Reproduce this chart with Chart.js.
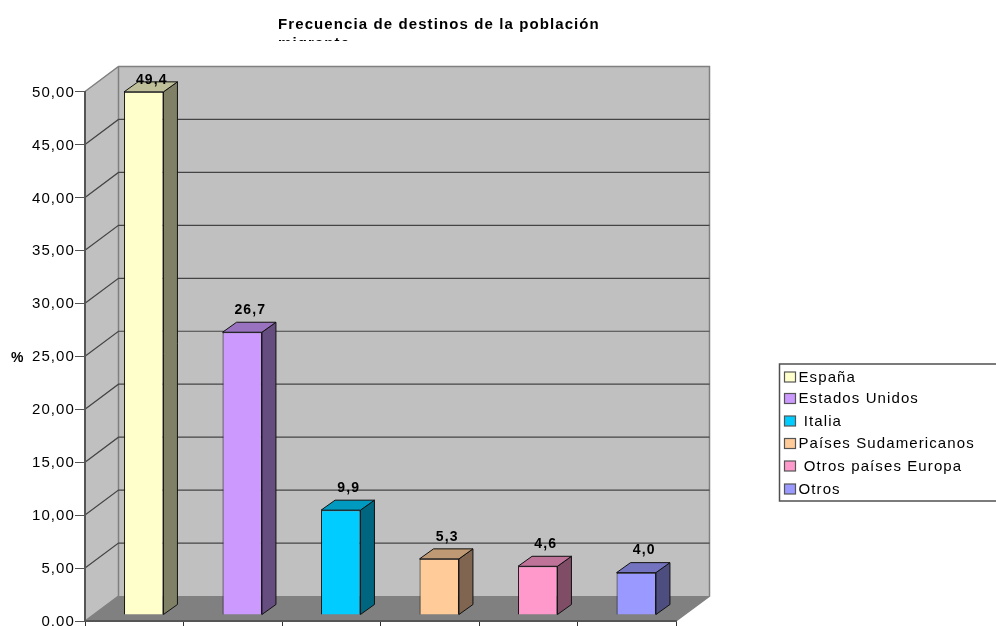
<!DOCTYPE html>
<html><head><meta charset="utf-8">
<style>html,body{margin:0;padding:0;background:#fff;overflow:hidden}canvas{display:block}</style>
<script src="https://cdn.jsdelivr.net/npm/chart.js@4"></script>
</head><body><canvas id="c" width="996" height="626"></canvas>
<script>
const categories = ['España','Estados Unidos',' Italia','Países Sudamericanos',' Otros países Europa','Otros'];
const values = [49.4,26.7,9.9,5.3,4.6,4.0];
const valueLabels = ['49,4','26,7','9,9','5,3','4,6','4,0'];
const frontColors = ['#FFFFCC','#CC99FF','#00CCFF','#FFCC99','#FF99CC','#9999FF'];
const topColors = ['#BFBF99','#9973BF','#0099BF','#BF9973','#BF7399','#7373BF'];
const sideColors = ['#808066','#664D80','#006680','#806650','#804D66','#4D4D80'];
const chartTitle = ['Frecuencia de destinos de la población','migrante'];
const axisTitle = '%';
const yMax = 50, yStep = 5;

const FONT = '"Liberation Sans", Arial, sans-serif';
const DEPTH = {x:33.5, y:-25};
const BAR_SHIFT = {x:9.5, y:-6};
const BAR_DEPTH = {x:14, y:-10};

const scene = {
  id:'scene',
  afterLayout(chart){
    const t = chart.titleBlock;
    t.left = 278; t.right = 800;
  },
  beforeDraw(chart){
    const {ctx, chartArea:a, scales:{y}} = chart;
    ctx.letterSpacing = '1.1px';
    const d = DEPTH;
    ctx.save();
    ctx.fillStyle = '#C0C0C0';
    ctx.fillRect(a.left+d.x, a.top+d.y, a.width, a.height);
    ctx.beginPath();
    ctx.moveTo(a.left,a.top); ctx.lineTo(a.left+d.x,a.top+d.y);
    ctx.lineTo(a.left+d.x,a.bottom+d.y); ctx.lineTo(a.left,a.bottom); ctx.closePath();
    ctx.fill();
    ctx.fillStyle = '#808080';
    ctx.beginPath();
    ctx.moveTo(a.left,a.bottom); ctx.lineTo(a.right,a.bottom);
    ctx.lineTo(a.right+d.x,a.bottom+d.y); ctx.lineTo(a.left+d.x,a.bottom+d.y); ctx.closePath();
    ctx.fill();
    // edges
    ctx.strokeStyle = '#808080'; ctx.lineWidth = 1.5;
    ctx.beginPath();
    ctx.moveTo(a.left,a.top); ctx.lineTo(a.left+d.x,a.top+d.y); ctx.lineTo(a.right+d.x,a.top+d.y);
    ctx.lineTo(a.right+d.x,a.bottom+d.y); ctx.lineTo(a.right,a.bottom);
    ctx.moveTo(a.left+d.x,a.top+d.y); ctx.lineTo(a.left+d.x,a.bottom+d.y); ctx.lineTo(a.left,a.bottom);
    ctx.stroke();
    // gridlines on walls
    ctx.strokeStyle = '#444'; ctx.lineWidth = 1.2;
    y.ticks.forEach(tk=>{
      if (tk.value===0 || tk.value===yMax) return;
      const p = y.getPixelForValue(tk.value);
      ctx.beginPath();
      ctx.moveTo(a.left,p); ctx.lineTo(a.left+d.x,p+d.y); ctx.lineTo(a.right+d.x,p+d.y);
      ctx.stroke();
    });
    ctx.restore();
  },
  beforeDatasetsDraw(chart){
    chart.ctx.save();
    chart.ctx.translate(BAR_SHIFT.x, BAR_SHIFT.y);
  },
  afterDatasetsDraw(chart){
    const {ctx, chartArea:a} = chart;
    const m = chart.getDatasetMeta(0);
    ctx.strokeStyle = '#111'; ctx.lineWidth = 1; ctx.lineJoin='round';
    m.data.forEach((el,i)=>{
      const L = el.x-el.width/2, R = el.x+el.width/2, T = el.y, B = el.base;
      const bx = BAR_DEPTH.x, by = BAR_DEPTH.y;
      ctx.fillStyle = sideColors[i];
      ctx.beginPath(); ctx.moveTo(R,T); ctx.lineTo(R+bx,T+by); ctx.lineTo(R+bx,B+by); ctx.lineTo(R,B); ctx.closePath(); ctx.fill(); ctx.stroke();
      ctx.fillStyle = topColors[i];
      ctx.beginPath(); ctx.moveTo(L,T); ctx.lineTo(L+bx,T+by); ctx.lineTo(R+bx,T+by); ctx.lineTo(R,T); ctx.closePath(); ctx.fill(); ctx.stroke();
    });
    ctx.restore();
    // value labels
    ctx.save();
    ctx.font = 'bold 14px '+FONT;
    ctx.fillStyle = '#000'; ctx.textAlign='center'; ctx.textBaseline='middle';
    m.data.forEach((el,i)=>{
      const y = Math.max(el.y+BAR_SHIFT.y-22, a.top-11.5);
      ctx.fillText(valueLabels[i], el.x+BAR_SHIFT.x+8, y);
    });
    ctx.restore();
  },
  afterDraw(chart){
    const {ctx} = chart;
    ctx.save();
    // clipped second title line
    ctx.fillStyle = '#fff';
    ctx.fillRect(270,41,350,14);
    // axis title
    ctx.font = 'bold 14px '+FONT;
    ctx.fillStyle = '#000'; ctx.textAlign='left'; ctx.textBaseline='middle';
    ctx.fillText(axisTitle, 11, 358);
    // legend
    ctx.fillStyle = '#fff'; ctx.strokeStyle='#505050'; ctx.lineWidth=1.5;
    ctx.fillRect(779,364,220,137);
    ctx.strokeRect(779.5,364,225,137);
    ctx.font = '15px '+FONT; ctx.textBaseline='middle';
    const rows = [377,398.5,421,443.5,466,489];
    categories.forEach((c,i)=>{
      ctx.fillStyle = frontColors[i]; ctx.strokeStyle='#555'; ctx.lineWidth=1.2;
      ctx.fillRect(784.5,rows[i]-5,11,10); ctx.strokeRect(784.5,rows[i]-5,11,10);
      ctx.fillStyle='#000';
      ctx.fillText(c,798.5,rows[i]+0.5);
    });
    ctx.restore();
  }
};

new Chart(document.getElementById('c').getContext('2d'),{
  type:'bar',
  data:{labels:categories,datasets:[{data:values,backgroundColor:frontColors,borderColor:'#111',borderWidth:1,barPercentage:0.8,categoryPercentage:0.5,clip:false}]},
  options:{
    responsive:false,animation:false,
    layout:{padding:{top:0,right:320,bottom:0,left:0}},
    plugins:{
      legend:{display:false},tooltip:{enabled:false},
      title:{display:true,text:chartTitle,align:'start',color:'#000',
        font:{family:FONT,size:15,weight:'bold',lineHeight:19/15},padding:{top:15.5,bottom:38}}
    },
    scales:{
      x:{type:'category',offset:true,
        grid:{offset:true,drawOnChartArea:false,tickLength:5,color:'#333'},
        border:{color:'#555',width:2},
        ticks:{display:false},
        afterFit(s){s.height=5;s.paddingLeft=0;s.paddingRight=0;}},
      y:{min:0,max:yMax,
        grid:{drawOnChartArea:false,tickLength:10,color:'#555',lineWidth:1},
        border:{color:'#555',width:2},
        ticks:{stepSize:yStep,autoSkip:false,padding:0,labelOffset:1,color:'#000',font:{family:FONT,size:15},
          callback:v=>v.toFixed(2).replace('.',',')},
        afterFit(s){s.width=85;s.paddingTop=0;s.paddingBottom=0;}}
    }
  },
  plugins:[scene]
});
</script></body></html>
